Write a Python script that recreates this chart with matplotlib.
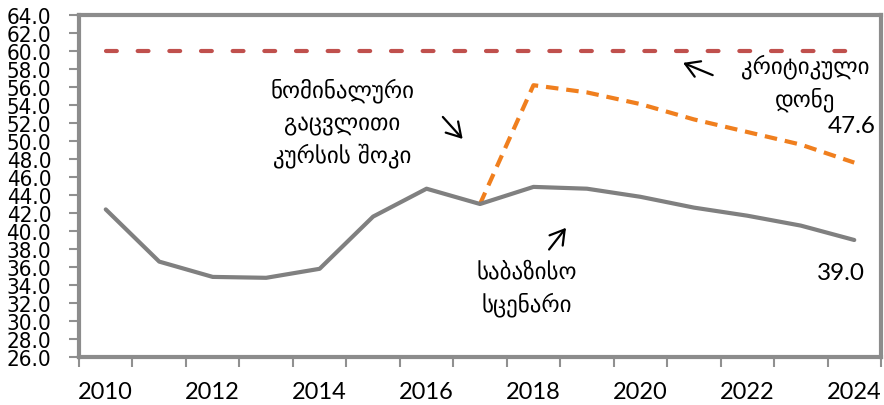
import matplotlib
matplotlib.use("Agg")
import matplotlib.pyplot as plt
from matplotlib.ticker import MultipleLocator, FixedLocator

years = list(range(2010, 2025))
baseline = [42.4, 36.6, 34.9, 34.8, 35.8, 41.6, 44.7, 43.0, 44.9, 44.7, 43.8, 42.6, 41.7, 40.6, 39.0]
shock_years = list(range(2017, 2025))
shock = [43.0, 56.2, 55.4, 54.1, 52.4, 51.0, 49.6, 47.6]
critical = [60.0] * len(years)
xtick_labels = [2010, 2012, 2014, 2016, 2018, 2020, 2022, 2024]

num_font = "Lato"
geo_font = ["DejaVu Sans"]

fig = plt.figure(figsize=(8.84, 4.06), dpi=100)
ax = fig.add_axes([0.0894, 0.1182, 0.9072, 0.8424])

ax.plot(years, critical, color="#C0504D", lw=3, dashes=(2.6, 5.0), dash_capstyle="round")
ax.plot(shock_years, shock, color="#F07F1E", lw=3, dashes=(3.0, 1.9), dash_capstyle="butt")
ax.plot(years, baseline, color="#808080", lw=3, solid_capstyle="round")

ax.set_xlim(2009.5, 2024.5)
ax.set_ylim(26, 64)
ax.yaxis.set_major_locator(MultipleLocator(2))
ax.set_yticklabels([f"{v:.1f}" for v in ax.get_yticks()])
ax.xaxis.set_major_locator(FixedLocator(xtick_labels))
ax.xaxis.set_minor_locator(FixedLocator([y - 0.5 for y in years] + [2024.5]))
ax.tick_params(axis="x", which="major", length=0, pad=17, labelsize=17)
ax.tick_params(axis="x", which="minor", length=7, width=1.5, color="#909090")
ax.tick_params(axis="y", length=7, width=1.5, color="#909090", pad=13, labelsize=16)
for lab in ax.get_xticklabels():
    lab.set_fontfamily(num_font)
for lab in ax.get_yticklabels():
    lab.set_fontfamily("DejaVu Sans")
    lab.set_fontstretch("condensed")

for s in ax.spines.values():
    s.set_color("#8C8C8C")
    s.set_linewidth(3)

ax.text(2014.43, 52.1, "ნომინალური\nგაცვლითი\nკურსის შოკი", ha="center", va="center",
        fontsize=16.5, family=geo_font, linespacing=1.45)
ax.text(2023.08, 56.5, "კრიტიკული\nდონე", ha="center", va="center",
        fontsize=16.5, family=geo_font, linespacing=1.45)
ax.text(2017.87, 33.7, "საბაზისო\nსცენარი", ha="center", va="center",
        fontsize=16.5, family=geo_font, linespacing=1.45)
ax.text(2024.39, 51.7, "47.6", ha="right", va="center", fontsize=17.5, family=num_font)
ax.text(2024.2, 35.4, "39.0", ha="right", va="center", fontsize=17.5, family=num_font)

arrow = dict(arrowstyle="->,head_length=0.5,head_width=0.3", color="black", lw=1.6, mutation_scale=20)
ax.annotate("", xy=(2016.71, 50.0), xytext=(2016.27, 52.9), arrowprops=arrow)
ax.annotate("", xy=(2020.75, 58.8), xytext=(2021.40, 57.2), arrowprops=arrow)
ax.annotate("", xy=(2018.64, 40.6), xytext=(2018.26, 37.7), arrowprops=arrow)

fig.savefig("out.png", dpi=100)
